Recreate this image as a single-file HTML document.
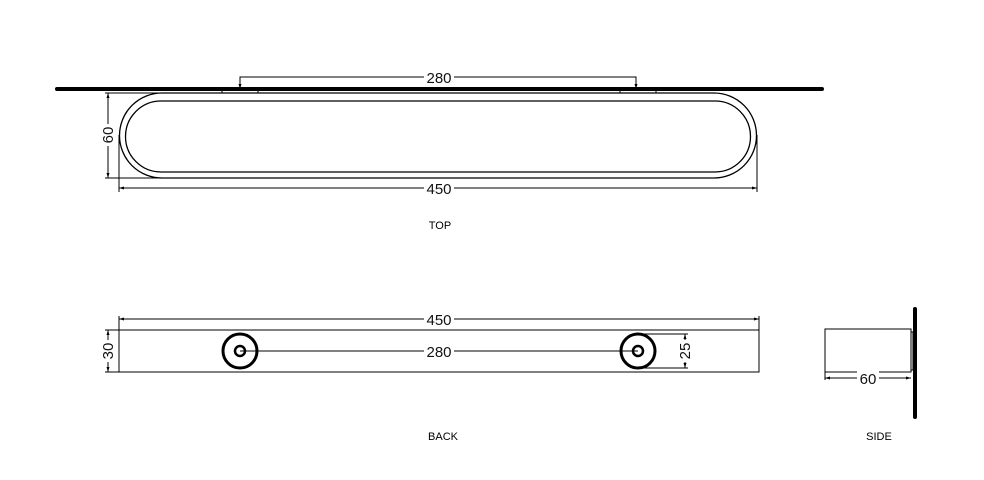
<!DOCTYPE html>
<html><head><style>body{margin:0;background:#fff}svg{display:block}</style></head><body>
<svg width="984" height="480" viewBox="0 0 984 480" xmlns="http://www.w3.org/2000/svg" font-family="Liberation Sans, sans-serif">
<defs><marker id="a" viewBox="0 0 10 10" refX="10" refY="5" markerWidth="7" markerHeight="5" orient="auto-start-reverse"><path d="M0,2L10,5L0,8z" fill="#000"/></marker></defs>
<g fill="none" stroke="#000" stroke-width="1">
<!-- TOP -->
<line x1="57" y1="89" x2="822" y2="89" stroke-width="4" stroke-linecap="round"/>
<rect x="222" y="89" width="36" height="4"/>
<rect x="620" y="89" width="36" height="4"/>
<path d="M162,93H714A42.5,42.5 0 0 1 714,178H162A42.5,42.5 0 0 1 162,93Z" stroke-width="1.3"/>
<path d="M161,101H715A35.5,35.5 0 0 1 715,172H161A35.5,35.5 0 0 1 161,101Z" stroke-width="1.3"/>
<polyline points="240,89 240,77 636,77 636,89" marker-start="url(#a)" marker-end="url(#a)"/>
<line x1="119" y1="135" x2="119" y2="192"/><line x1="757" y1="135" x2="757" y2="192"/>
<line x1="119" y1="188" x2="757" y2="188" marker-start="url(#a)" marker-end="url(#a)"/>
<line x1="105" y1="93" x2="170" y2="93"/><line x1="105" y1="178" x2="170" y2="178"/>
<line x1="108" y1="93" x2="108" y2="178" marker-start="url(#a)" marker-end="url(#a)"/>
<!-- BACK -->
<rect x="119" y="330" width="640" height="42"/>
<line x1="119" y1="316" x2="119" y2="330"/><line x1="759" y1="316" x2="759" y2="330"/>
<line x1="119" y1="319" x2="759" y2="319" marker-start="url(#a)" marker-end="url(#a)"/>
<line x1="105" y1="330" x2="119" y2="330"/><line x1="105" y1="372" x2="119" y2="372"/>
<line x1="108" y1="330" x2="108" y2="372" marker-start="url(#a)" marker-end="url(#a)"/>
<line x1="240" y1="351" x2="638" y2="351"/>
<circle cx="240" cy="351" r="17" stroke-width="3"/><circle cx="240" cy="351" r="5" stroke-width="2.5"/>
<circle cx="638" cy="351" r="17" stroke-width="3"/><circle cx="638" cy="351" r="5" stroke-width="2.5"/>
<line x1="638" y1="334" x2="688" y2="334"/><line x1="638" y1="368" x2="688" y2="368"/>
<line x1="685" y1="334" x2="685" y2="368" marker-start="url(#a)" marker-end="url(#a)"/>
<!-- SIDE -->
<rect x="825" y="329" width="86" height="43"/>
<rect x="911" y="332" width="2" height="38"/>
<line x1="915" y1="309" x2="915" y2="417" stroke-width="4" stroke-linecap="round"/>
<line x1="825" y1="372" x2="825" y2="380"/>
<line x1="825" y1="378" x2="911" y2="378" marker-start="url(#a)" marker-end="url(#a)"/>
</g>
<g font-size="15" fill="#111" text-anchor="middle">
<rect x="424" y="70" width="30" height="14" fill="#fff"/><text x="439" y="83">280</text>
<rect x="424" y="181" width="30" height="14" fill="#fff"/><text x="439" y="194">450</text>
<rect x="101" y="124" width="14" height="22" fill="#fff"/><text transform="translate(113,135) rotate(-90)">60</text>
<rect x="424" y="312" width="30" height="14" fill="#fff"/><text x="439" y="325">450</text>
<rect x="424" y="344" width="30" height="14" fill="#fff"/><text x="439" y="357">280</text>
<rect x="101" y="340" width="14" height="22" fill="#fff"/><text transform="translate(113,351) rotate(-90)">30</text>
<rect x="678" y="340" width="14" height="22" fill="#fff"/><text transform="translate(690,351) rotate(-90)">25</text>
<rect x="857" y="371" width="22" height="14" fill="#fff"/><text x="868" y="384">60</text>
</g>
<g font-size="11" fill="#000" text-anchor="middle">
<text x="440" y="229">TOP</text>
<text x="443" y="440">BACK</text>
<text x="879" y="440">SIDE</text>
</g>
</svg>
</body></html>
